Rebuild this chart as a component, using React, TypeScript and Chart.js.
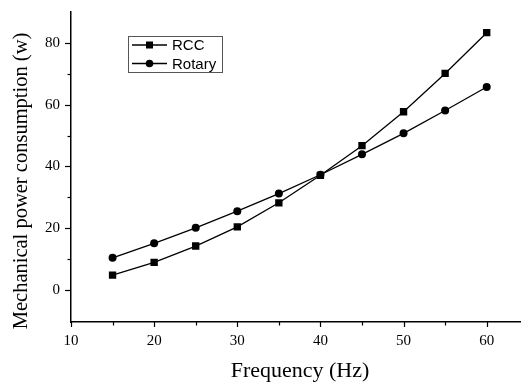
import React, { useEffect, useRef } from "react";
import { Chart, registerables } from "chart.js";

Chart.register(...registerables);

const frequencies = [15, 20, 25, 30, 35, 40, 45, 50, 55, 60];
const rccPower = [4.8, 8.9, 14.2, 20.4, 28.2, 37.1, 46.7, 57.7, 70.1, 83.3];
const rotaryPower = [10.4, 15.1, 20.1, 25.5, 31.2, 37.3, 43.9, 50.7, 58.1, 65.7];
const xTickValues = [10, 15, 20, 25, 30, 35, 40, 45, 50, 55, 60];
const xTickLabels = ["10", "", "20", "", "30", "", "40", "", "50", "", "60"];
const yTickValues = [0, 10, 20, 30, 40, 50, 60, 70, 80];
const yTickLabels = ["0", "", "20", "", "40", "", "60", "", "80"];
const seriesNames = ["RCC", "Rotary"];
const xTitle = "Frequency (Hz)";
const yTitle = "Mechanical power consumption (w)";

const SERIF = "'Liberation Serif', 'Times New Roman', serif";
const SANS = "'Liberation Sans', Arial, sans-serif";

const overlayPlugin = {
  id: "overlay",
  afterDraw(chart: any) {
    const ctx = chart.ctx;
    const xs = chart.scales.x;
    const ys = chart.scales.y;
    ctx.save();
    ctx.strokeStyle = "#000";
    ctx.lineWidth = 1.2;
    xTickValues.forEach((v, i) => {
      const px = Math.round(xs.getPixelForValue(v)) + 0.5;
      const len = xTickLabels[i] ? 5 : 3.5;
      ctx.beginPath();
      ctx.moveTo(px, ys.bottom);
      ctx.lineTo(px, ys.bottom + len);
      ctx.stroke();
    });
    yTickValues.forEach((v, i) => {
      const py = Math.round(ys.getPixelForValue(v)) + 0.5;
      const len = yTickLabels[i] ? 6 : 3.5;
      ctx.beginPath();
      ctx.moveTo(xs.left, py);
      ctx.lineTo(xs.left - len, py);
      ctx.stroke();
    });
    ctx.fillStyle = "#000";
    ctx.font = "22px " + SERIF;
    ctx.textAlign = "center";
    ctx.textBaseline = "alphabetic";
    ctx.fillText(xTitle, 300, 377);
    ctx.save();
    ctx.translate(27, 181);
    ctx.rotate(-Math.PI / 2);
    ctx.font = "20.5px " + SERIF;
    ctx.fillText(yTitle, 0, 0);
    ctx.restore();
    const lx = 128, ly = 36, lw = 94, lh = 36;
    ctx.strokeStyle = "#555";
    ctx.lineWidth = 1;
    ctx.strokeRect(lx + 0.5, ly + 0.5, lw, lh);
    ctx.font = "15px " + SANS;
    ctx.textAlign = "left";
    ctx.textBaseline = "middle";
    seriesNames.forEach((name, i) => {
      const cy = ly + 9 + i * 18.5;
      ctx.strokeStyle = "#000";
      ctx.lineWidth = 1.3;
      ctx.beginPath();
      ctx.moveTo(lx + 4, cy);
      ctx.lineTo(lx + 39, cy);
      ctx.stroke();
      ctx.fillStyle = "#000";
      if (i === 0) {
        ctx.fillRect(lx + 18, cy - 3.5, 7, 7);
      } else {
        ctx.beginPath();
        ctx.arc(lx + 21.5, cy, 3.8, 0, Math.PI * 2);
        ctx.fill();
      }
      ctx.fillText(name, lx + 44, cy + 1);
    });
    ctx.restore();
  },
};

export default function App() {
  const ref = useRef<HTMLCanvasElement>(null);
  useEffect(() => {
    document.body.style.margin = "0";
    const canvas = ref.current!;
    const chart = new Chart(canvas, {
      type: "line",
      data: {
        datasets: [
          {
            label: seriesNames[0],
            data: frequencies.map((f, i) => ({ x: f, y: rccPower[i] })),
            borderColor: "#000",
            backgroundColor: "#000",
            borderWidth: 1.3,
            pointStyle: "rect",
            pointRadius: 5.2,
            pointBorderWidth: 0,
            tension: 0,
          },
          {
            label: seriesNames[1],
            data: frequencies.map((f, i) => ({ x: f, y: rotaryPower[i] })),
            borderColor: "#000",
            backgroundColor: "#000",
            borderWidth: 1.3,
            pointStyle: "circle",
            pointRadius: 4,
            pointBorderWidth: 0,
            tension: 0,
          },
        ],
      },
      options: {
        animation: false,
        responsive: false,
        layout: { padding: { top: 5, right: 0, left: 0, bottom: 0 } },
        plugins: { legend: { display: false }, tooltip: { enabled: false } },
        scales: {
          x: {
            type: "linear",
            min: 10,
            max: 64.1,
            afterBuildTicks: (s: any) => {
              s.ticks = xTickValues.map((v) => ({ value: v }));
            },
            afterFit: (s: any) => {
              s.height = 60;
            },
            grid: { display: false },
            border: { display: true, color: "#000", width: 1.5 },
            ticks: {
              autoSkip: false,
              maxRotation: 0,
              padding: 2,
              color: "#000",
              font: { family: SERIF, size: 15 },
              callback: (v: any) => xTickLabels[xTickValues.indexOf(Number(v))] ?? "",
            },
          },
          y: {
            type: "linear",
            min: -10.4,
            max: 90,
            afterBuildTicks: (s: any) => {
              s.ticks = yTickValues.map((v) => ({ value: v }));
            },
            afterFit: (s: any) => {
              s.width = 71;
            },
            grid: { display: false },
            border: { display: true, color: "#000", width: 1.5 },
            ticks: {
              autoSkip: false,
              padding: 3,
              color: "#000",
              font: { family: SERIF, size: 15 },
              callback: (v: any) => yTickLabels[yTickValues.indexOf(Number(v))] ?? "",
            },
          },
        },
      },
      plugins: [overlayPlugin],
    } as any);
    return () => chart.destroy();
  }, []);
  return (
    <div style={{ width: 526, height: 382, background: "#fff" }}>
      <canvas ref={ref} width={526} height={382} style={{ display: "block" }} />
    </div>
  );
}
